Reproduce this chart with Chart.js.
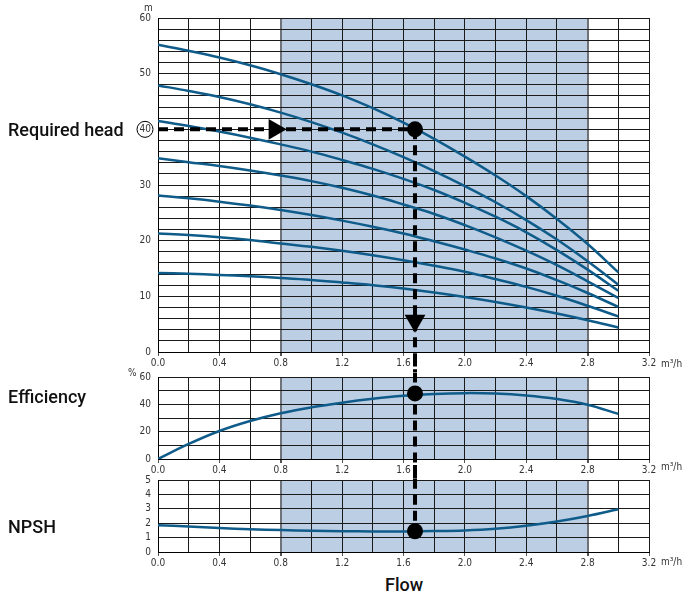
<!DOCTYPE html>
<html lang="en">
<head>
<meta charset="UTF-8">
<title>Pump curve</title>
<script src="https://cdn.jsdelivr.net/npm/chart.js"></script>
<style>
  body { margin: 0; background: #fff; }
  .page { position: relative; width: 687px; height: 596px; font-family: 'DejaVu Sans Condensed', 'Liberation Sans', sans-serif; }
  .box { position: absolute; left: 0; width: 687px; }
  .big { position: absolute; font-family: Roboto, 'Liberation Sans', sans-serif; font-size: 18px; font-weight: 500; color: #111; white-space: nowrap; line-height: 21px; }
  .unit { position: absolute; font-size: 10px; color: #333; white-space: nowrap; }
</style>
</head>
<body>
<div class="page">
  <div class="box" style="top:0;height:372px"><canvas id="chartHead"></canvas></div>
  <div class="box" style="top:360px;height:119px"><canvas id="chartEff"></canvas></div>
  <div class="box" style="top:465px;height:107px"><canvas id="chartNpsh"></canvas></div>

  <span class="big" style="left:8px;top:119px">Required head</span>
  <span class="big" style="left:8px;top:386px">Efficiency</span>
  <span class="big" style="left:8px;top:516px">NPSH</span>
  <span class="big" style="left:385px;top:574px">Flow</span>

  <span class="unit" style="left:144px;top:2px">m</span>
  <span class="unit" style="left:128px;top:367px">%</span>
  <span class="unit" style="left:661px;top:358px">m³/h</span>
  <span class="unit" style="left:661px;top:461px">m³/h</span>
  <span class="unit" style="left:661px;top:556px">m³/h</span>
</div>
<script>
// flow points (m3/h)
const flow = [0, 0.2, 0.4, 0.6, 0.8, 1.0, 1.2, 1.4, 1.6, 1.8, 2.0, 2.2, 2.4, 2.6, 2.8, 3.0]

// head curves (m), top to bottom
const headA = [55.2, 54.1, 52.9, 51.5, 49.9, 48.1, 46.1, 43.8, 41.2, 38.3, 35.1, 31.7, 28.0, 23.9, 19.4, 14.3]
const headB = [47.9, 46.9, 45.8, 44.5, 43.0, 41.3, 39.4, 37.3, 35.0, 32.5, 29.8, 26.9, 23.7, 20.2, 16.3, 12.1]
const headC = [41.5, 40.6, 39.6, 38.5, 37.3, 36.0, 34.5, 32.9, 31.1, 29.1, 26.8, 24.3, 21.5, 18.3, 14.8, 11.0]
const headD = [34.8, 34.1, 33.4, 32.6, 31.7, 30.7, 29.5, 28.1, 26.5, 24.8, 22.8, 20.6, 18.2, 15.6, 12.7, 9.7]
const headE = [28.1, 27.6, 27.0, 26.3, 25.5, 24.6, 23.6, 22.5, 21.3, 19.9, 18.4, 16.8, 15.0, 12.9, 10.6, 8.1]
const headF = [21.3, 21.0, 20.6, 20.1, 19.5, 18.9, 18.2, 17.4, 16.5, 15.5, 14.4, 13.1, 11.7, 10.1, 8.3, 6.4]
const headG = [14.2, 14.05, 13.85, 13.6, 13.3, 12.95, 12.5, 12.0, 11.4, 10.7, 9.9, 9.0, 8.0, 6.9, 5.7, 4.4]

// efficiency (%) and NPSH (m)
const efficiency = [0, 11, 20.5, 27.8, 33.5, 37.8, 41.2, 44.0, 46.2, 47.6, 48.2, 47.9, 46.5, 43.9, 39.7, 33.0]
const npsh = [1.86, 1.77, 1.67, 1.58, 1.52, 1.47, 1.44, 1.43, 1.43, 1.45, 1.50, 1.62, 1.83, 2.12, 2.5, 2.97]

// duty point
const dutyFlow = 1.675
const dutyHead = 40
const dutyEff = 48
const dutyNpsh = 1.44

// recommended range (shaded)
const shadeFrom = 0.8
const shadeTo = 2.8

const curveColor = '#0f5b89'
const tickFont = { family: "'DejaVu Sans Condensed', 'Liberation Sans', sans-serif", size: 10 }

function pts(ys) {
    return flow.map((f, i) => ({ x: f, y: ys[i] }))
}

function curve(ys) {
    return {
        data: pts(ys),
        borderColor: curveColor,
        borderWidth: 2.5,
        pointRadius: 0,
        tension: 0.4,
        order: 3
    }
}

function dashLine(data) {
    return {
        data: data,
        borderColor: '#000',
        borderWidth: 4,
        borderDash: [10, 6],
        pointRadius: 0,
        clip: false,
        order: 2
    }
}

function marker(x, y, style, rot, r) {
    return {
        data: [{ x: x, y: y }],
        showLine: false,
        pointStyle: style,
        rotation: rot,
        pointRadius: r,
        pointBackgroundColor: '#000',
        pointBorderColor: '#000',
        pointBorderWidth: 0,
        clip: false,
        order: 1
    }
}

const shadePlugin = {
    id: 'shade',
    beforeDraw(chart) {
        const { ctx, chartArea, scales } = chart
        const x1 = scales.x.getPixelForValue(shadeFrom)
        const x2 = scales.x.getPixelForValue(shadeTo)
        ctx.save()
        ctx.fillStyle = 'rgb(187,206,228)'
        ctx.fillRect(x1, chartArea.top, x2 - x1, chartArea.bottom - chartArea.top)
        ctx.restore()
    }
}

function xScale() {
    return {
        type: 'linear',
        min: 0,
        max: 3.2,
        ticks: {
            stepSize: 0.2,
            padding: 1,
            color: '#333',
            font: tickFont,
            maxRotation: 0,
            autoSkip: false,
            callback: (v) => Math.round(v * 10) % 4 === 0 ? v.toFixed(1) : ''
        },
        grid: {
            color: (c) => {
                const v = Math.round(c.tick.value * 10) / 10
                return (v === shadeFrom || v === shadeTo) ? '#6f7379' : '#1a1a1a'
            },
            lineWidth: (c) => {
                const v = Math.round(c.tick.value * 10) / 10
                return (v === shadeFrom || v === shadeTo) ? 2 : 1
            },
            tickColor: (c) => Math.round(c.tick.value * 10) % 4 === 0 ? '#555' : 'rgba(0,0,0,0)',
            tickLength: 4
        },
        border: { color: '#000', width: 1 },
        afterFit: (s) => { s.height = 20 }
    }
}

function yScale(max, step, labelEvery) {
    return {
        min: 0,
        max: max,
        ticks: {
            stepSize: step,
            padding: 7,
            color: '#333',
            font: tickFont,
            autoSkip: false,
            callback: (v) => Math.round(v) % labelEvery === 0 ? v : ''
        },
        grid: { color: '#1a1a1a', lineWidth: 1, drawTicks: false },
        border: { color: '#000', width: 1 },
        afterFit: (s) => { s.width = 158 }
    }
}

function baseOptions(padTop, yOpts) {
    return {
        responsive: true,
        maintainAspectRatio: false,
        animation: false,
        layout: { padding: { top: padTop, right: 38, bottom: 0, left: 0 } },
        plugins: { legend: { display: false }, tooltip: { enabled: false } },
        scales: { x: xScale(), y: yOpts }
    }
}

// circle round the duty head tick label
const circlePlugin = {
    id: 'circleTick',
    afterDraw(chart) {
        const { ctx, chartArea, scales } = chart
        const y = scales.y.getPixelForValue(dutyHead)
        ctx.save()
        ctx.strokeStyle = '#000'
        ctx.lineWidth = 1
        ctx.beginPath()
        ctx.arc(chartArea.left - 13, y, 8, 0, Math.PI * 2)
        ctx.stroke()
        ctx.restore()
    }
}

new Chart(document.getElementById('chartHead'), {
    type: 'line',
    data: {
        datasets: [
            marker(dutyFlow, dutyHead, 'circle', 0, 8),
            marker(0.76, dutyHead, 'triangle', 90, 12),
            marker(dutyFlow, 5.6, 'triangle', 180, 12),
            dashLine([{ x: 0, y: dutyHead }, { x: dutyFlow, y: dutyHead }]),
            dashLine([{ x: dutyFlow, y: dutyHead }, { x: dutyFlow, y: -4 }]),
            curve(headA), curve(headB), curve(headC), curve(headD),
            curve(headE), curve(headF), curve(headG)
        ]
    },
    options: baseOptions(18, yScale(60, 2, 10)),
    plugins: [shadePlugin, circlePlugin]
})

new Chart(document.getElementById('chartEff'), {
    type: 'line',
    data: {
        datasets: [
            marker(dutyFlow, dutyEff, 'circle', 0, 8),
            dashLine([{ x: dutyFlow, y: 75 }, { x: dutyFlow, y: -16 }]),
            curve(efficiency)
        ]
    },
    options: baseOptions(17, yScale(60, 10, 20)),
    plugins: [shadePlugin]
})

new Chart(document.getElementById('chartNpsh'), {
    type: 'line',
    data: {
        datasets: [
            marker(dutyFlow, dutyNpsh, 'circle', 0, 8),
            dashLine([{ x: dutyFlow, y: 6.2 }, { x: dutyFlow, y: dutyNpsh }]),
            curve(npsh)
        ]
    },
    options: baseOptions(15, yScale(5, 1, 1)),
    plugins: [shadePlugin]
})
</script>
</body>
</html>
